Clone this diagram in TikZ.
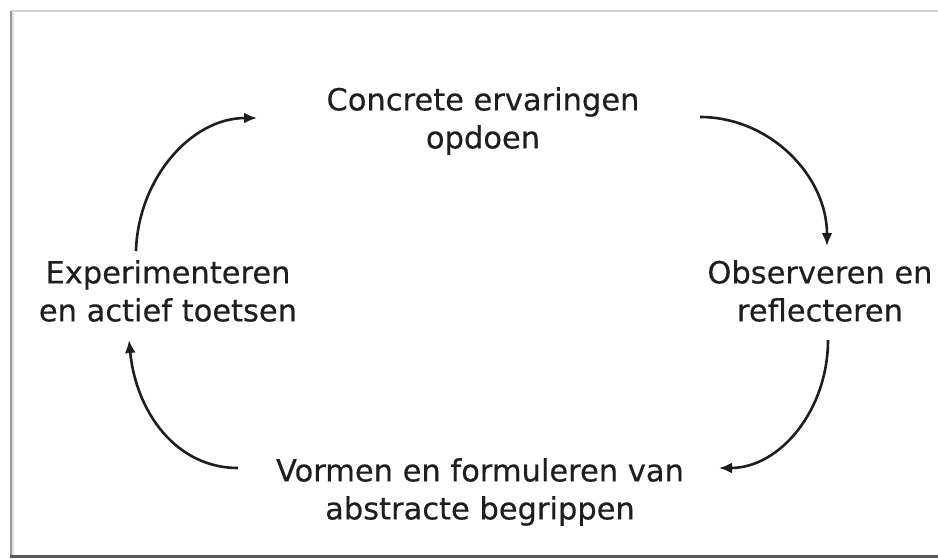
\documentclass[tikz,border=0pt]{standalone}
\usepackage{fontspec}
\setmainfont[FakeBold=0.35]{DejaVu Sans}
\usetikzlibrary{arrows.meta}
\definecolor{txt}{HTML}{1E1E1E}
\tikzset{
  label/.style={align=center, text=txt, inner sep=0pt,
    font=\fontsize{30.5}{38}\selectfont},
  cyc/.style={draw=txt, line width=2.6pt,
    -{Latex[length=13pt,width=11pt]}}
}
\begin{document}
\begin{tikzpicture}[x=1pt,y=-1pt]
\useasboundingbox (0,0) rectangle (938,558);
\fill[white] (0,0) rectangle (938,558);
% frame
\draw[black!18, line width=1.5pt] (11,11) -- (938,11);
\draw[black!12, line width=4pt] (12,11) -- (12,556);
\draw[black!40, line width=1.2pt] (11,11) -- (11,556);
\draw[black!65, line width=2.5pt] (10,556.5) -- (938,556.5);
% texts
\node[label] (top) at (483,121) {Concrete ervaringen\\opdoen};
\node[label] (right) at (820,291) {Observeren en\\reflecteren};
\node[label] (bottom) at (480,492) {Vormen en formuleren van\\abstracte begrippen};
\node[label] (left) at (168,291) {Experimenteren\\en actief toetsen};
% connector ends
\coordinate (l1) at (136,251);
\coordinate (t1) at (257,118);
\coordinate (t2) at (700,117);
\coordinate (r1) at (827,246);
\coordinate (r2) at (828,340);
\coordinate (b1) at (719,468);
\coordinate (b2) at (238,468);
\coordinate (l2) at (129,340);
% connectors
\draw[cyc] (l1) .. controls (138,180) and (190,118) .. (t1);
\draw[cyc] (t2) .. controls (770,117) and (827,176) .. (r1);
\draw[cyc] (r2) .. controls (828,410) and (780,468) .. (b1);
\draw[cyc] (b2) .. controls (176,468) and (136,412) .. (l2);
\end{tikzpicture}
\end{document}
